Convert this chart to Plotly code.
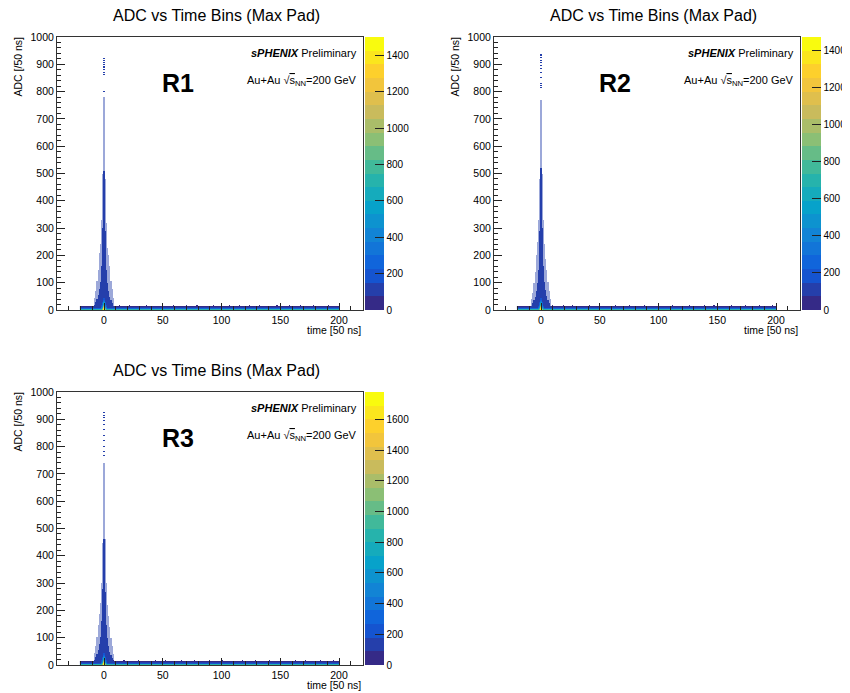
import plotly.graph_objects as go

W, H = 850, 693
OFF = 8                     # the page body adds an 8px margin around the figure
FW, FH = W - OFF, H - OFF   # figure size that fills the window exactly
FONT = "Liberation Sans, Arial, Helvetica, sans-serif"

# ---------------- data ----------------
title_text = "ADC vs Time Bins (Max Pad)"
panel_labels = ["R1", "R2", "R3"]
zmax_values = [1500, 1470, 1780]

time_min, time_max = -20, 200          # filled time-bin range
adc_bin_width = 4                      # ADC bin width
adc_max = 1000

# baseline rows (ADC bin centres) and counts, present in every time bin
baseline_adc = [2, 6, 10, 14]
r1_baseline_counts = [700, 230, 130, 60]
r2_baseline_counts = [690, 225, 125, 58]
r3_baseline_counts = [820, 260, 150, 70]

# time bins where the baseline pokes up to ~20 ADC
r1_spike_t = [13, 22, 36, 50, 59, 70, 79, 93, 100, 107, 115, 124, 132, 147, 158, 167, 178, 191]
r2_spike_t = [10, 19, 27, 41, 50, 63, 75, 88, 100, 112, 126, 139, 147, 150, 162, 174, 186, 197]
r3_spike_t = [8, 17, 29, 44, 52, 66, 77, 90, 101, 118, 129, 141, 150, 163, 171, 184, 195]

# peak around time bin 0
peak_offsets = [-8, -7, -6, -5, -4, -3, -2, -1, 0, 1, 2, 3, 4, 5, 6, 7, 8]
r1_dense_top = [20, 28, 40, 55, 75, 105, 160, 300, 510, 290, 150, 100, 70, 50, 38, 26, 18]
r1_halo_top = [45, 70, 110, 150, 210, 240, 330, 500, 780, 480, 320, 230, 200, 160, 110, 75, 45]
r2_dense_top = [18, 25, 36, 50, 70, 100, 150, 290, 520, 300, 160, 105, 72, 52, 38, 26, 18]
r2_halo_top = [40, 65, 100, 140, 200, 250, 330, 480, 770, 500, 330, 240, 190, 150, 105, 70, 40]
r3_dense_top = [20, 28, 40, 55, 75, 105, 160, 280, 460, 270, 150, 100, 70, 50, 36, 26, 18]
r3_halo_top = [45, 70, 105, 150, 190, 230, 300, 450, 740, 460, 300, 220, 180, 140, 100, 70, 40]
dense_counts = [90, 95, 100, 105, 110, 115, 120, 130, 140, 130, 120, 115, 110, 105, 100, 95, 90]
halo_count = 110
tail_count = 100

# bright core at low ADC for time bins 0, +-1, +-2
core_adc = [2, 6, 10, 14, 18, 22, 26, 30, 34, 38, 42, 46]
r1_core_c0 = [1500, 1380, 1150, 950, 780, 620, 480, 370, 280, 210, 160, 120]
r1_core_c1 = [950, 760, 580, 430, 320, 240, 180, 140, 110, 90, 70, 55]
r1_core_c2 = [620, 420, 300, 210, 150, 110, 85, 70, 60, 50, 45, 40]
r2_core_c0 = [1470, 1350, 1120, 930, 760, 600, 470, 360, 270, 205, 155, 115]
r2_core_c1 = [930, 740, 570, 420, 310, 235, 175, 135, 105, 85, 68, 52]
r2_core_c2 = [600, 410, 290, 205, 145, 108, 82, 68, 58, 48, 43, 38]
r3_core_c0 = [1780, 1620, 1360, 1120, 920, 730, 570, 440, 330, 250, 190, 140]
r3_core_c1 = [1120, 900, 690, 510, 380, 285, 215, 165, 130, 105, 82, 65]
r3_core_c2 = [730, 500, 355, 250, 180, 130, 100, 83, 70, 60, 53, 47]

# isolated high-ADC entries in time bin 0
r1_tail_adc = [920, 912, 904, 896, 888, 880, 870, 860, 802]
r2_tail_adc = [935, 925, 915, 905, 895, 885, 870, 850, 830, 822, 814]
r3_tail_adc = [925, 915, 905, 895, 880, 860, 840, 820, 800, 780, 765]

# ---------------- palette (ROOT kBird, 20 contour bands) ----------------
bird_stops = [0.0, 0.125, 0.25, 0.375, 0.5, 0.625, 0.75, 0.875, 1.0]
bird_r = [0.2082, 0.0592, 0.0780, 0.0232, 0.1802, 0.5301, 0.8186, 0.9956, 0.9764]
bird_g = [0.1664, 0.3599, 0.5041, 0.6419, 0.7178, 0.7492, 0.7328, 0.7862, 0.9832]
bird_b = [0.5293, 0.8684, 0.8385, 0.7914, 0.6425, 0.4662, 0.3499, 0.1968, 0.0539]


def bird(t):
    for k in range(len(bird_stops) - 1):
        if bird_stops[k] <= t <= bird_stops[k + 1]:
            f = (t - bird_stops[k]) / (bird_stops[k + 1] - bird_stops[k])
            rgb = [c[k] + f * (c[k + 1] - c[k]) for c in (bird_r, bird_g, bird_b)]
            return "rgb(%d,%d,%d)" % tuple(round(v * 255) for v in rgb)
    return "rgb(249,251,14)"


n_bands = 20
colorscale = []
for i in range(n_bands):
    c = bird(i / (n_bands - 1))
    colorscale.append([i / n_bands, c])
    colorscale.append([(i + 1) / n_bands, c])

# ---------------- histogram tables ----------------
time_centers = list(range(time_min, time_max + 1))
adc_centers = [adc_bin_width * i + adc_bin_width / 2 for i in range(adc_max // adc_bin_width)]
col_of = {t: j for j, t in enumerate(time_centers)}


def row_of(a):
    return int(a // adc_bin_width)


def build(base_counts, spikes, dense_top, halo_top, core0, core1, core2, tail):
    ny, nx = len(adc_centers), len(time_centers)
    z = [[None] * nx for _ in range(ny)]
    zh = [[None] * nx for _ in range(ny)]
    for j in range(nx):
        for a, c in zip(baseline_adc, base_counts):
            z[row_of(a)][j] = c
    for t in spikes:
        z[row_of(18)][col_of[t]] = 30
    for off, dt, ht, dc in zip(peak_offsets, dense_top, halo_top, dense_counts):
        j = col_of[off]
        for i, a in enumerate(adc_centers):
            if a < dt:
                z[i][j] = max(z[i][j] or 0, dc)
            elif a < ht:
                zh[i][j] = halo_count
    for k, a in enumerate(core_adc):
        r = row_of(a)
        z[r][col_of[0]] = core0[k]
        for off in (-1, 1):
            z[r][col_of[off]] = max(z[r][col_of[off]] or 0, core1[k])
        for off in (-2, 2):
            z[r][col_of[off]] = max(z[r][col_of[off]] or 0, core2[k])
    for a in tail:
        z[row_of(a)][col_of[0]] = tail_count
    return z, zh


panels = [
    build(r1_baseline_counts, r1_spike_t, r1_dense_top, r1_halo_top,
          r1_core_c0, r1_core_c1, r1_core_c2, r1_tail_adc),
    build(r2_baseline_counts, r2_spike_t, r2_dense_top, r2_halo_top,
          r2_core_c0, r2_core_c1, r2_core_c2, r2_tail_adc),
    build(r3_baseline_counts, r3_spike_t, r3_dense_top, r3_halo_top,
          r3_core_c0, r3_core_c1, r3_core_c2, r3_tail_adc),
]

# ---------------- layout geometry (window pixels) ----------------
# frame: left, right, top, bottom
frames = [(57, 362.5, 37, 310), (494, 799.5, 37, 310), (57, 362.5, 392, 665)]


def px(x):
    return (x - OFF) / FW


def py(y):
    return 1 - (y - OFF) / FH


fig = go.Figure()
annotations = []
layout = {}


def ann(text, x, y, size, xanchor="center", yanchor="middle", angle=0):
    annotations.append(dict(text=text, x=px(x), y=py(y), xref="paper", yref="paper",
                            xanchor=xanchor, yanchor=yanchor, showarrow=False,
                            textangle=angle,
                            font=dict(family=FONT, size=size, color="black")))


for p, ((zmain, zhalo), (l, r, t, b)) in enumerate(zip(panels, frames)):
    sfx = "" if p == 0 else str(p + 1)
    ca = "coloraxis" + sfx
    fig.add_trace(go.Heatmap(x=time_centers, y=adc_centers, z=zhalo, coloraxis=ca,
                             opacity=0.45, hoverinfo="skip",
                             xaxis="x" + sfx, yaxis="y" + sfx))
    fig.add_trace(go.Heatmap(x=time_centers, y=adc_centers, z=zmain, coloraxis=ca,
                             xaxis="x" + sfx, yaxis="y" + sfx))
    layout["xaxis" + sfx] = dict(
        domain=[px(l), px(r)], anchor="y" + sfx, range=[-40, 220],
        tick0=0, dtick=50, ticks="inside", ticklen=7, tickwidth=1, tickcolor="#222",
        minor=dict(dtick=10, ticks="inside", ticklen=4, tickcolor="#222"),
        showline=True, linecolor="#333", linewidth=1, mirror=True,
        showgrid=False, zeroline=False,
        tickfont=dict(family=FONT, size=10.5, color="black"))
    layout["yaxis" + sfx] = dict(
        domain=[py(b), py(t)], anchor="x" + sfx, range=[0, 1000],
        tick0=0, dtick=100, ticks="inside", ticklen=8, tickwidth=1, tickcolor="#222",
        minor=dict(dtick=20, ticks="inside", ticklen=4, tickcolor="#222"),
        showline=True, linecolor="#333", linewidth=1, mirror=True,
        showgrid=False, zeroline=False,
        tickfont=dict(family=FONT, size=10.5, color="black"))
    layout[ca] = dict(
        colorscale=colorscale, cmin=0, cmax=zmax_values[p],
        colorbar=dict(x=px(r + 2.5), xanchor="left", xpad=0, ypad=0,
                      y=py((t + b) / 2), yanchor="middle",
                      len=b - t, lenmode="pixels", thickness=19, thicknessmode="pixels",
                      outlinewidth=0, tick0=0, dtick=200, ticks="inside", ticklen=9,
                      tickcolor="#222", tickfont=dict(family=FONT, size=10, color="black")))

    ann(title_text, l + 159.5, t - 21.5, 16)
    ann("<b>" + panel_labels[p] + "</b>", l + 120.5, t + 46, 25)
    ann("<b><i>sPHENIX</i></b> Preliminary", r - 4, t + 16, 11, xanchor="right")
    ann("Au+Au √<span style='text-decoration:overline'>s</span><sub>NN</sub>=200 GeV",
        r - 4, t + 44, 11, xanchor="right")
    ann("ADC [/50 ns]", l - 39.5, t + 30, 10.5, angle=-90)
    ann("time [50 ns]", r, b + 19.5, 10.5, xanchor="right")

fig.update_layout(
    width=FW, height=FH, margin=dict(l=0, r=0, t=0, b=0, autoexpand=False),
    paper_bgcolor="white", plot_bgcolor="white", showlegend=False,
    annotations=annotations, **layout)

fig.write_html("out.html")
